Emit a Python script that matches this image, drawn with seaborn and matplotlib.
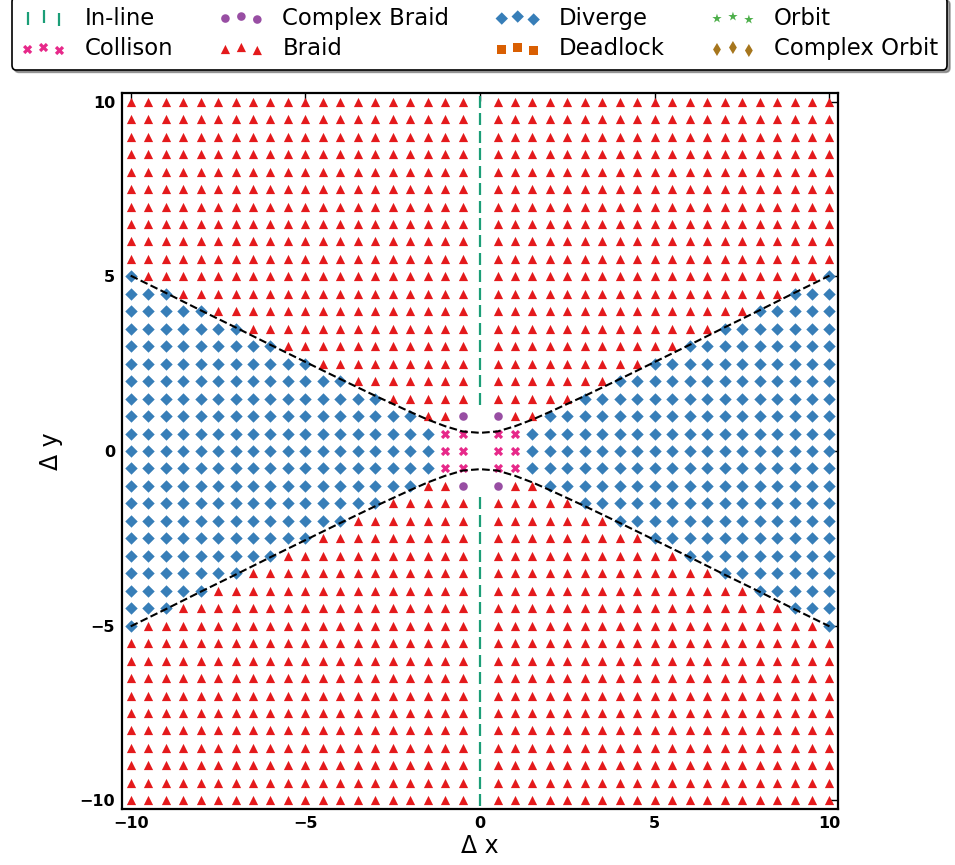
import numpy as np
import pandas as pd
import matplotlib
matplotlib.use("Agg")
import matplotlib.pyplot as plt
import seaborn as sns

# ---------------- data ----------------
grid_values = [-10.0, -9.5, -9.0, -8.5, -8.0, -7.5, -7.0, -6.5, -6.0, -5.5,
               -5.0, -4.5, -4.0, -3.5, -3.0, -2.5, -2.0, -1.5, -1.0, -0.5,
               0.0, 0.5, 1.0, 1.5, 2.0, 2.5, 3.0, 3.5, 4.0, 4.5,
               5.0, 5.5, 6.0, 6.5, 7.0, 7.5, 8.0, 8.5, 9.0, 9.5, 10.0]

# largest |dy| that is still "Diverge" in each dx column (None = in-line column)
diverge_limit = [5.0, 4.5, 4.5, 4.0, 4.0, 3.5, 3.5, 3.0, 3.0, 2.5,
                 2.5, 2.0, 2.0, 1.5, 1.5, 1.0, 1.0, 0.5, 0.5, 0.5,
                 None, 0.5, 0.5, 0.5, 1.0, 1.0, 1.5, 1.5, 2.0, 2.0,
                 2.5, 2.5, 3.0, 3.0, 3.5, 3.5, 4.0, 4.0, 4.5, 4.5, 5.0]

inline_min_abs_y = 1.5  # in-line markers at dx = 0 for |dy| >= this

collision_x = [-1.0, -1.0, -1.0, -0.5, -0.5, -0.5, 0.5, 0.5, 0.5, 1.0, 1.0, 1.0]
collision_y = [-0.5, 0.0, 0.5, -0.5, 0.0, 0.5, -0.5, 0.0, 0.5, -0.5, 0.0, 0.5]

complex_braid_x = [-0.5, -0.5, 0.5, 0.5]
complex_braid_y = [-1.0, 1.0, -1.0, 1.0]

boundary_x = [-10, -9, -8, -7, -6, -5, -4, -3, -2, -1.5, -1, -0.5, 0,
              0.5, 1, 1.5, 2, 3, 4, 5, 6, 7, 8, 9, 10]
boundary_upper = [5.02, 4.53, 4.03, 3.54, 3.04, 2.55, 2.06, 1.58, 1.12, 0.90, 0.71, 0.56, 0.52,
                  0.56, 0.71, 0.90, 1.12, 1.58, 2.06, 2.55, 3.04, 3.54, 4.03, 4.53, 5.02]
boundary_lower = [-5.02, -4.53, -4.03, -3.54, -3.04, -2.55, -2.06, -1.58, -1.12, -0.90, -0.71, -0.56, -0.52,
                  -0.56, -0.71, -0.90, -1.12, -1.58, -2.06, -2.55, -3.04, -3.54, -4.03, -4.53, -5.02]

categories = ["In-line", "Collison", "Complex Braid", "Braid",
              "Diverge", "Deadlock", "Orbit", "Complex Orbit"]
cat_colors = {"In-line": "#1b9e77", "Collison": "#e7298a", "Complex Braid": "#984ea3",
              "Braid": "#e41a1c", "Diverge": "#377eb8", "Deadlock": "#d95f02",
              "Orbit": "#4daf4a", "Complex Orbit": "#a6761d"}
cat_markers = {"In-line": "|", "Collison": "X", "Complex Braid": "o", "Braid": "^",
               "Diverge": "D", "Deadlock": "s", "Orbit": "*", "Complex Orbit": "d"}

# ---------------- classify grid ----------------
collisions = set(zip(collision_x, collision_y))
cbraids = set(zip(complex_braid_x, complex_braid_y))
rows = []
for xi, lim in zip(grid_values, diverge_limit):
    for yi in grid_values:
        if lim is None:
            if abs(yi) >= inline_min_abs_y:
                rows.append((xi, yi, "In-line"))
            continue
        if (xi, yi) in collisions:
            cat = "Collison"
        elif (xi, yi) in cbraids:
            cat = "Complex Braid"
        elif abs(yi) <= lim:
            cat = "Diverge"
        else:
            cat = "Braid"
        rows.append((xi, yi, cat))
df = pd.DataFrame(rows, columns=["dx", "dy", "category"])

# ---------------- plot ----------------
sns.set_theme(style="white")
plt.rcParams["font.family"] = ["DejaVu Sans"]
plt.rcParams.update({
    "xtick.direction": "in", "ytick.direction": "in",
    "xtick.top": True, "ytick.right": True,
    "axes.edgecolor": "black", "axes.linewidth": 1.6,
    "text.color": "black", "axes.labelcolor": "black",
    "xtick.color": "black", "ytick.color": "black",
    "xtick.labelcolor": "black", "ytick.labelcolor": "black",
})

fig = plt.figure(figsize=(9.55, 8.65), dpi=100)
ax = fig.add_axes([0.1277, 0.0647, 0.75, 0.8278])

sizes = {"In-line": 80, "Collison": 44, "Complex Braid": 38, "Braid": 44,
         "Diverge": 40, "Deadlock": 38, "Orbit": 50, "Complex Orbit": 44}

handles = {}
for cat in categories:
    sub = df[df["category"] == cat]
    if len(sub):
        if cat_markers[cat] == "|":
            sns.scatterplot(data=sub, x="dx", y="dy", marker="|", color=cat_colors[cat],
                            s=sizes[cat], linewidth=1.6, ax=ax, legend=False, zorder=3)
        else:
            sns.scatterplot(data=sub, x="dx", y="dy", marker=cat_markers[cat],
                            color=cat_colors[cat], s=sizes[cat], linewidth=0,
                            ax=ax, legend=False, zorder=3)
    # legend proxy
    if cat_markers[cat] == "|":
        h = ax.scatter([], [], marker="|", color=cat_colors[cat], s=sizes[cat], linewidths=1.6)
    else:
        h = ax.scatter([], [], marker=cat_markers[cat], color=cat_colors[cat],
                       s=sizes[cat], linewidths=0)
    handles[cat] = h

sns.lineplot(x=boundary_x, y=boundary_upper, sort=False, color="black",
             linestyle="--", linewidth=1.5, ax=ax, zorder=4)
sns.lineplot(x=boundary_x, y=boundary_lower, sort=False, color="black",
             linestyle="--", linewidth=1.5, ax=ax, zorder=4)

ax.set_xlim(-10.25, 10.25)
ax.set_ylim(-10.25, 10.25)
ax.set_xticks([-10, -5, 0, 5, 10])
ax.set_yticks([-10, -5, 0, 5, 10])
ax.tick_params(axis="both", which="major", length=6, width=1.0, color="black",
               labelcolor="black", labelsize=11.5, pad=5)
for lab in ax.get_xticklabels() + ax.get_yticklabels():
    lab.set_fontweight("bold")
ax.set_xlabel("Δ x", fontsize=17, labelpad=2, color="black")
ax.set_ylabel("Δ y", fontsize=17, labelpad=12, color="black")

leg = fig.legend([handles[c] for c in categories], categories, loc="upper center",
                 bbox_to_anchor=(0.502, 1.003), ncol=4, fontsize=16.4, scatterpoints=3,
                 fancybox=True, shadow=True, framealpha=1, edgecolor="black",
                 borderaxespad=0.0, labelspacing=0.35)
leg.get_frame().set_linewidth(1.2)
for t in leg.get_texts():
    t.set_color("black")

fig.savefig("out.png", dpi=100)
